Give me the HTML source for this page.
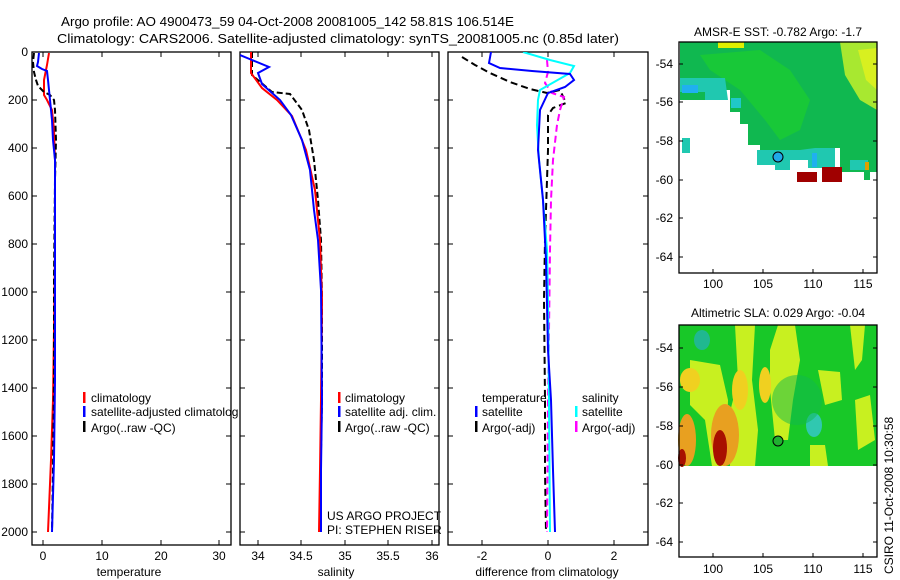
<!DOCTYPE html>
<html><head><meta charset="utf-8"><style>
html,body{margin:0;padding:0;background:#fff;overflow:hidden;}
svg{display:block;font-family:"Liberation Sans",sans-serif;}
</style></head><body>
<svg width="900" height="580" viewBox="0 0 900 580" xmlns="http://www.w3.org/2000/svg">
<defs>
<clipPath id="c1"><rect x="32" y="52" width="199" height="493"/></clipPath>
<clipPath id="c2"><rect x="240" y="52" width="199" height="493"/></clipPath>
<clipPath id="c3"><rect x="448" y="52" width="200" height="493"/></clipPath>
</defs>
<rect width="900" height="580" fill="#fff"/>
<g font-size="13" fill="#000">
<text x="61" y="26" textLength="453" lengthAdjust="spacingAndGlyphs">Argo profile: AO 4900473_59 04-Oct-2008 20081005_142 58.81S 106.514E</text>
<text x="57" y="43" textLength="562" lengthAdjust="spacingAndGlyphs">Climatology: CARS2006. Satellite-adjusted climatology: synTS_20081005.nc (0.85d later)</text>
</g>
<g fill="none" stroke="#000" stroke-width="1.3">
<rect x="32" y="52" width="199" height="493"/>
<rect x="240" y="52" width="199" height="493"/>
<rect x="448" y="52" width="200" height="493"/>
</g>
<g stroke="#000" stroke-width="1">
<path d="M32 52h5M32 100h5M32 148h5M32 196h5M32 244h5M32 292h5M32 340h5M32 388h5M32 436h5M32 484h5M32 532h5"/>
<path d="M231 100h-5M231 148h-5M231 196h-5M231 244h-5M231 292h-5M231 340h-5M231 388h-5M231 436h-5M231 484h-5M231 532h-5"/>
<path d="M240 100h5M240 148h5M240 196h5M240 244h5M240 292h5M240 340h5M240 388h5M240 436h5M240 484h5M240 532h5"/>
<path d="M439 100h-5M439 148h-5M439 196h-5M439 244h-5M439 292h-5M439 340h-5M439 388h-5M439 436h-5M439 484h-5M439 532h-5"/>
<path d="M448 100h5M448 148h5M448 196h5M448 244h5M448 292h5M448 340h5M448 388h5M448 436h5M448 484h5M448 532h5"/>
<path d="M648 100h-5M648 148h-5M648 196h-5M648 244h-5M648 292h-5M648 340h-5M648 388h-5M648 436h-5M648 484h-5M648 532h-5"/>
<path d="M43 545v-5M102 545v-5M161 545v-5M219 545v-5M43 52v5M102 52v5M161 52v5M219 52v5"/>
<path d="M258 545v-5M301 545v-5M345 545v-5M388 545v-5M432 545v-5M258 52v5M301 52v5M345 52v5M388 52v5M432 52v5"/>
<path d="M482 545v-5M548 545v-5M614 545v-5M482 52v5M548 52v5M614 52v5"/>
</g>
<g font-size="12" text-anchor="end">
<text x="28" y="56">0</text><text x="28" y="104">200</text><text x="28" y="152">400</text><text x="28" y="200">600</text><text x="28" y="248">800</text><text x="28" y="296">1000</text><text x="28" y="344">1200</text><text x="28" y="392">1400</text><text x="28" y="440">1600</text><text x="28" y="488">1800</text><text x="28" y="536">2000</text>
</g>
<g font-size="12" text-anchor="middle">
<text x="43" y="560">0</text><text x="102" y="560">10</text><text x="161" y="560">20</text><text x="219" y="560">30</text>
<text x="258" y="560">34</text><text x="301" y="560">34.5</text><text x="345" y="560">35</text><text x="388" y="560">35.5</text><text x="432" y="560">36</text>
<text x="482" y="560">-2</text><text x="548" y="560">0</text><text x="614" y="560">2</text>
<text x="129" y="576">temperature</text><text x="336" y="576">salinity</text><text x="547" y="576">difference from climatology</text>
</g>
<g fill="none" stroke-width="2" clip-path="url(#c1)">
<polyline stroke="#f00" points="49,53 47,65 44,80 44,95 47,100 52,110 54,130 55,160 55,250 54,330 53,400 51,460 48,532"/>
<polyline stroke="#000" stroke-dasharray="6,3" points="34,53 33,62 34,72 36,80 38,86 44,92 50,95 54,100 55,110 56,140 55,180 54,280 54,380 53,470 52,530"/>
<polyline stroke="#00f" points="39,53 38,62 37,66 42,69 47,71 48,80 50,100 52,120 53,140 55,160 55,250 55,380 54,460 52,532"/>
</g>
<g fill="none" stroke-width="2" clip-path="url(#c2)">
<polyline stroke="#000" stroke-dasharray="6,3" points="252,52 252,75 272,92 290,94 302,110 309,130 314,160 318,200 321,240 322,300 322,400 321,450 320,532"/>
<polyline stroke="#f00" points="251,52 251,73 262,88 277,100 292,116 306,150 315,190 320,240 322,300 321,400 320,470 319,532"/>
<polyline stroke="#00f" points="240,55 252,60 269,67 258,73 262,84 280,100 291,115 302,140 310,170 314,210 318,240 321,290 322,400 321,470 321,532"/>
</g>
<g fill="none" stroke-width="2" clip-path="url(#c3)">
<polyline stroke="#000" stroke-dasharray="7,4" points="462,57 475,65 490,73 510,82 530,89 547,93 560,90 566,103 553,108 548,115 548,150 545,240 544,300 545,400 545,470 546,532"/>
<polyline stroke="#f0f" stroke-dasharray="7,4" points="547,60 548,72 545,83 552,93 564,97 560,110 557,125 553,160 551,200 550,250 549,330 548,400 547,532"/>
<polyline stroke="#0ff" points="523,52 550,60 574,66 570,73 540,90 538,100 537,125 539,160 543,200 547,250 548,300 549,400 550,532"/>
<polyline stroke="#00f" points="491,52 489,63 500,68 532,71 570,74 574,80 565,87 548,93 540,110 538,150 543,200 546,260 548,350 551,400 553,470 555,532"/>
</g>
<g font-size="12">
<rect x="83" y="392" width="2.5" height="11" fill="#f00"/><text x="91" y="402">climatology</text>
<rect x="83" y="406" width="2.5" height="11" fill="#00f"/><text x="91" y="416">satellite-adjusted climatolog</text>
<rect x="83" y="421" width="2.5" height="11" fill="#000"/><text x="91" y="432">Argo(..raw -QC)</text>
<rect x="338" y="392" width="2.5" height="11" fill="#f00"/><text x="345" y="402">climatology</text>
<rect x="338" y="406" width="2.5" height="11" fill="#00f"/><text x="345" y="416">satellite adj. clim.</text>
<rect x="338" y="421" width="2.5" height="11" fill="#000"/><text x="345" y="432">Argo(..raw -QC)</text>
<text x="327" y="520">US ARGO PROJECT</text><text x="327" y="534">PI: STEPHEN RISER</text>
<text x="482" y="402">temperature</text>
<rect x="475" y="406" width="2.5" height="11" fill="#00f"/><text x="482" y="416">satellite</text>
<rect x="475" y="421" width="2.5" height="11" fill="#000"/><text x="482" y="432">Argo(-adj)</text>
<text x="582" y="402">salinity</text>
<rect x="575" y="406" width="2.5" height="11" fill="#0ff"/><text x="582" y="416">satellite</text>
<rect x="575" y="421" width="2.5" height="11" fill="#f0f"/><text x="582" y="432">Argo(-adj)</text>
</g>
<text x="778" y="36" font-size="12" text-anchor="middle">AMSR-E SST: -0.782 Argo: -1.7</text>
<g>
<polygon fill="#10b850" points="680,42 877,42 877,172 870,172 870,180 864,180 864,172 840,172 840,148 820,148 820,168 808,168 808,160 790,160 790,170 775,170 775,165 760,165 760,145 748,145 748,124 740,124 740,112 730,112 730,90 705,90 705,100 680,100"/>
<polygon fill="#18c838" points="700,55 760,50 790,70 810,100 800,130 780,140 765,120 740,90 710,70"/>
<polygon fill="#a8e830" points="840,42 877,42 877,110 860,100 845,75"/>
<polygon fill="#d8f020" points="858,50 877,48 877,90 866,80"/>
<rect x="718" y="42" width="26" height="6" fill="#e0f000"/>
<polygon fill="#20c8b0" points="680,78 725,78 728,100 705,100 705,92 680,92"/>
<rect x="682" y="85" width="16" height="8" fill="#20b0f0"/>
<rect x="731" y="98" width="10" height="10" fill="#20c8c8"/>
<rect x="682" y="138" width="8" height="15" fill="#20c8b0"/>
<polygon fill="#20c8b0" points="757,150 800,150 815,148 835,148 835,168 808,168 808,160 790,160 790,170 775,170 775,165 757,165"/>
<rect x="812" y="153" width="5" height="14" fill="#20b0f0"/>
<rect x="850" y="160" width="18" height="10" fill="#20c8b0"/>
<rect x="797" y="172" width="20" height="10" fill="#a00000"/>
<rect x="822" y="167" width="20" height="15" fill="#a00000"/>
<rect x="865" y="162" width="4" height="8" fill="#e0a000"/>
<circle cx="778" cy="157" r="5" fill="#20a8e8" stroke="#000"/>
</g>
<rect x="679" y="42" width="198" height="231" fill="none" stroke="#000" stroke-width="1.3"/>
<g stroke="#000"><path d="M679 64h4M679 102h4M679 141h4M679 180h4M679 218h4M679 257h4M877 64h-4M877 102h-4M877 141h-4M877 180h-4M877 218h-4M877 257h-4M713 273v-4M763 273v-4M813 273v-4M863 273v-4"/></g>
<g font-size="12" text-anchor="end"><text x="673" y="68">-54</text><text x="673" y="106">-56</text><text x="673" y="145">-58</text><text x="673" y="184">-60</text><text x="673" y="222">-62</text><text x="673" y="261">-64</text></g>
<g font-size="12" text-anchor="middle"><text x="713" y="288">100</text><text x="763" y="288">105</text><text x="813" y="288">110</text><text x="863" y="288">115</text></g>
<text x="778" y="317" font-size="12" text-anchor="middle">Altimetric SLA: 0.029 Argo: -0.04</text>
<g>
<rect x="679" y="325" width="198" height="141" fill="#18c828"/>
<polygon fill="#c8f020" points="735,325 755,325 752,380 758,430 755,466 730,466 728,420 738,380"/>
<polygon fill="#c8f020" points="690,360 720,365 728,400 726,466 712,466 705,420 690,405"/>
<polygon fill="#c8f020" points="778,325 795,325 800,360 793,400 788,440 775,440 770,390 770,350"/>
<polygon fill="#c8f020" points="818,370 840,372 842,400 825,405"/>
<polygon fill="#c8f020" points="850,325 865,325 862,360 855,370"/>
<polygon fill="#c8f020" points="855,400 870,395 875,440 858,450"/>
<polygon fill="#c8f020" points="810,445 825,445 828,466 810,466"/>
<ellipse cx="690" cy="380" rx="10" ry="12" fill="#f0d020"/>
<ellipse cx="740" cy="390" rx="8" ry="20" fill="#f0d020"/>
<ellipse cx="765" cy="385" rx="6" ry="18" fill="#f0d020"/>
<ellipse cx="725" cy="435" rx="14" ry="31" fill="#e8a020"/>
<ellipse cx="720" cy="448" rx="7" ry="18" fill="#a81000"/>
<ellipse cx="687" cy="440" rx="9" ry="26" fill="#e8a020"/>
<ellipse cx="682" cy="458" rx="4" ry="9" fill="#a81000"/>
<ellipse cx="702" cy="340" rx="8" ry="10" fill="#20b890"/>
<ellipse cx="814" cy="425" rx="8" ry="12" fill="#30c8b0"/>
<ellipse cx="797" cy="400" rx="25" ry="25" fill="#10b850" opacity=".5"/>
<circle cx="778" cy="441" r="5" fill="#20b030" stroke="#000"/>
</g>
<rect x="679" y="325" width="198" height="232" fill="none" stroke="#000" stroke-width="1.3"/>
<g stroke="#000"><path d="M679 348h4M679 387h4M679 426h4M679 465h4M679 503h4M679 542h4M877 348h-4M877 387h-4M877 426h-4M877 465h-4M877 503h-4M877 542h-4M713 557v-4M763 557v-4M813 557v-4M863 557v-4"/></g>
<g font-size="12" text-anchor="end"><text x="673" y="352">-54</text><text x="673" y="391">-56</text><text x="673" y="430">-58</text><text x="673" y="469">-60</text><text x="673" y="507">-62</text><text x="673" y="546">-64</text></g>
<g font-size="12" text-anchor="middle"><text x="713" y="573">100</text><text x="763" y="573">105</text><text x="813" y="573">110</text><text x="863" y="573">115</text></g>
<text transform="translate(893,574) rotate(-90)" font-size="12">CSIRO 11-Oct-2008 10:30:58</text>
</svg>
</body></html>
